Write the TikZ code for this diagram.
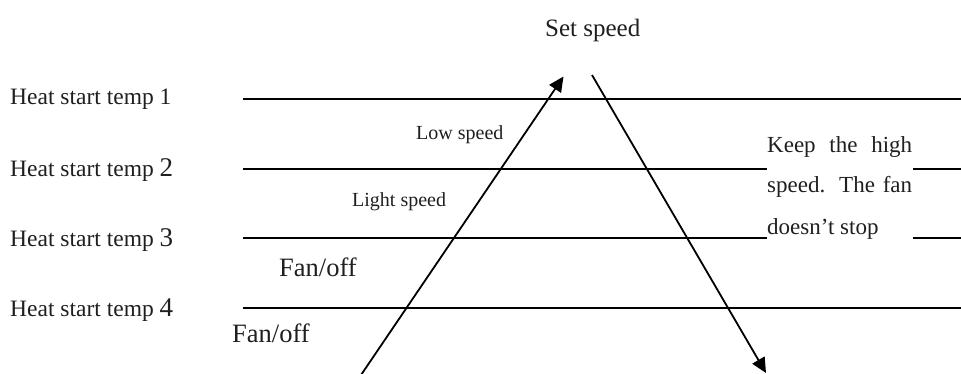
\documentclass[tikz,border=0pt]{standalone}
\usepackage{fontspec}
\setmainfont{Liberation Serif}
\usetikzlibrary{arrows.meta}
\begin{document}
\begin{tikzpicture}[x=1pt,y=-1pt,
  lvl/.style={line width=2pt},
  arr/.style={line width=1.8pt,-{Triangle[length=15pt,width=14pt]}},
  lab/.style={anchor=base west,inner sep=0pt,text=black!88,font=\fontsize{23.5}{26}\selectfont},
  small/.style={anchor=base west,inner sep=0pt,text=black!88,font=\fontsize{20}{22}\selectfont},
  fan/.style={anchor=base west,inner sep=0pt,text=black!88,font=\fontsize{26.5}{28}\selectfont},
  keep/.style={anchor=base west,inner sep=0pt,text=black!88,font=\fontsize{23}{25}\selectfont}]
\useasboundingbox (0,0) rectangle (961,374);
\newcommand{\bigd}[1]{{\fontsize{27}{28}\selectfont #1}}
% level lines
\coordinate (l1a) at (243,99); \coordinate (l1b) at (961,99);
\coordinate (l2a) at (243,169); \coordinate (l2b) at (766.7,169);
\coordinate (l2c) at (913,169); \coordinate (l2d) at (961,169);
\coordinate (l3a) at (243,238); \coordinate (l3b) at (766.7,238);
\coordinate (l3c) at (913,238); \coordinate (l3d) at (961,238);
\coordinate (l4a) at (243,308); \coordinate (l4b) at (961,308);
\draw[lvl] (l1a) -- (l1b);
\draw[lvl] (l2a) -- (l2b);
\draw[lvl] (l2c) -- (l2d);
\draw[lvl] (l3a) -- (l3b);
\draw[lvl] (l3c) -- (l3d);
\draw[lvl] (l4a) -- (l4b);
% arrows
\coordinate (upS) at (361,375);
\coordinate (upE) at (563.5,76.5);
\coordinate (dnS) at (592,75);
\coordinate (dnE) at (766,373);
\draw[arr] (upS) -- (upE);
\draw[arr] (dnS) -- (dnE);
% labels
\node[anchor=base west,inner sep=0pt,text=black!88,font=\fontsize{25}{27}\selectfont] (set) at (545,36.7) {Set speed};
\node[lab] (h1) at (10,105) {Heat start temp 1};
\node[lab] (h2) at (10,176.7) {Heat start temp \bigd{2}};
\node[lab] (h3) at (10,246.7) {Heat start temp \bigd{3}};
\node[lab] (h4) at (10,316.7) {Heat start temp \bigd{4}};
\node[small] (low) at (416,139.3) {Low speed};
\node[small] (light) at (352,206.7) {Light speed};
\node[fan] (fan1) at (279,276.7) {Fan/off};
\node[fan] (fan2) at (232,342.7) {Fan/off};
\node[keep] (k1) at (767,152.7) {\makebox[145pt][s]{Keep the high}};
\node[keep] (k2) at (767,193) {\makebox[145pt][s]{speed. The fan}};
\node[keep] (k3) at (767,234) {doesn’t stop};
\end{tikzpicture}
\end{document}
